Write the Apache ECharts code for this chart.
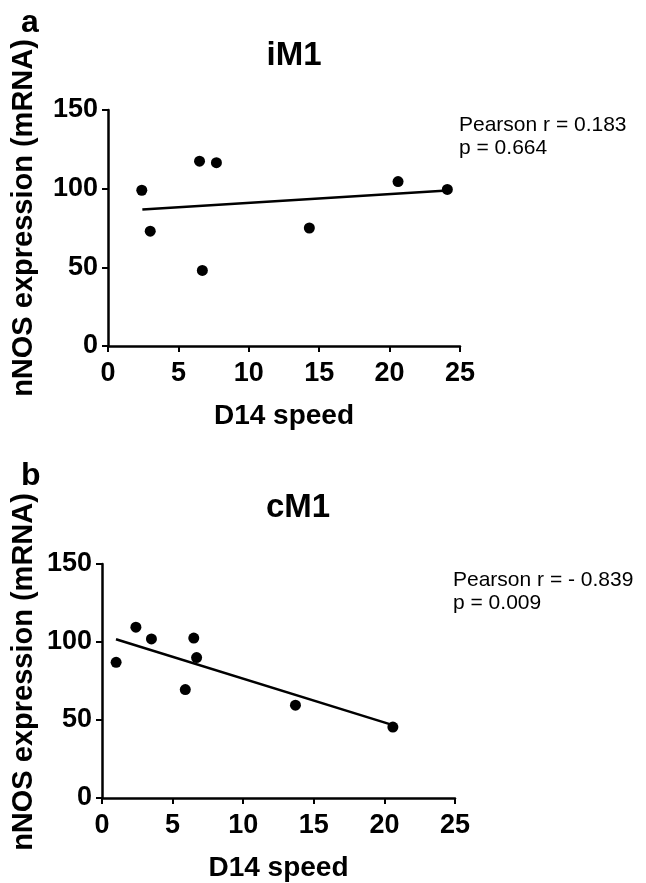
<!DOCTYPE html>
<html>
<head>
<meta charset="utf-8">
<title>nNOS expression vs D14 speed</title>
<script src="https://cdn.jsdelivr.net/npm/echarts@6/dist/echarts.min.js"></script>
<style>
  html, body { margin: 0; padding: 0; background: #fff; }
  #chart { width: 646px; height: 883px; }
</style>
</head>
<body>
<div id="chart"></div>
<script>
// 数据 a: iM1
const speedA = [2.4, 3.0, 6.5, 7.7, 6.7, 14.3, 20.6, 24.1];
const nnosA = [99, 73, 117.5, 116.5, 48, 75, 104.5, 99.5];
const fitA = [[2.44, 86.8], [24.1, 98.8]];
const statsA = ['Pearson r = 0.183', 'p = 0.664'];

// 数据 b: cM1
const speedB = [1.0, 2.4, 3.5, 6.5, 6.7, 5.9, 13.7, 20.6];
const nnosB = [87, 109.5, 102, 102.5, 90, 69.5, 59.5, 45.5];
const fitB = [[0.99, 101.8], [20.55, 46.9]];
const statsB = ['Pearson r = - 0.839', 'p = 0.009'];

const xTicks = { min: 0, max: 25, interval: 5 };
const yTicks = { min: 0, max: 150, interval: 50 };

const font = '"Liberation Sans", Arial, Helvetica, sans-serif';

function pairs(xs, ys) {
  return xs.map((x, i) => [x, ys[i]]);
}

// 坐标轴公共样式
function makeAxis(range, isX, gridIndex) {
  const axis = {
    type: 'value',
    gridIndex: gridIndex,
    min: range.min,
    max: range.max,
    interval: range.interval,
    splitLine: { show: false },
    axisLine: { show: true, onZero: false, lineStyle: { color: '#000', width: 2.5 } },
    axisTick: { show: true, inside: false, length: 6, lineStyle: { color: '#000', width: 2 } },
    axisLabel: {
      color: '#000', fontSize: 27, fontWeight: 'bold', fontFamily: font,
      margin: isX ? 14 : 10, showMinLabel: true, showMaxLabel: true
    }
  };
  if (isX) {
    axis.name = 'D14 speed';
    axis.nameLocation = 'middle';
    axis.nameGap = 56;
    axis.nameTextStyle = { color: '#000', fontSize: 28, fontWeight: 'bold', fontFamily: font };
  }
  return axis;
}

const chart = echarts.init(document.getElementById('chart'), null, { renderer: 'canvas' });

const titleStyle = { color: '#000', fontWeight: 'bold', fontFamily: font };
const statStyle = { fill: '#000', fontSize: 21, fontFamily: font, textAlign: 'left', textVerticalAlign: 'middle' };

const option = {
  backgroundColor: '#fff',
  animation: false,
  title: [
    { text: 'a', left: 16, top: 2, textStyle: Object.assign({ fontSize: 32 }, titleStyle) },
    { text: 'iM1', left: 289, top: 34, textAlign: 'center', textStyle: Object.assign({ fontSize: 33 }, titleStyle) },
    { text: 'b', left: 16, top: 455, textStyle: Object.assign({ fontSize: 32 }, titleStyle) },
    { text: 'cM1', left: 293, top: 486, textAlign: 'center', textStyle: Object.assign({ fontSize: 33 }, titleStyle) }
  ],
  grid: [
    { left: 108, right: 186, top: 110, height: 236 },
    { left: 102, right: 191, top: 564, height: 236 }
  ],
  xAxis: [makeAxis(xTicks, true, 0), makeAxis(xTicks, true, 1)],
  yAxis: [makeAxis(yTicks, false, 0), makeAxis(yTicks, false, 1)],
  graphic: [
    // y轴标题
    {
      type: 'text', x: 24, y: 218, rotation: Math.PI / 2,
      style: { text: 'nNOS expression (mRNA)', fill: '#000', fontSize: 29, fontWeight: 'bold', fontFamily: font, textAlign: 'center', textVerticalAlign: 'middle' }
    },
    {
      type: 'text', x: 24, y: 672, rotation: Math.PI / 2,
      style: { text: 'nNOS expression (mRNA)', fill: '#000', fontSize: 29, fontWeight: 'bold', fontFamily: font, textAlign: 'center', textVerticalAlign: 'middle' }
    },
    // 相关系数
    { type: 'text', x: 459, y: 125, style: Object.assign({ text: statsA[0] }, statStyle) },
    { type: 'text', x: 459, y: 148, style: Object.assign({ text: statsA[1] }, statStyle) },
    { type: 'text', x: 453, y: 580, style: Object.assign({ text: statsB[0] }, statStyle) },
    { type: 'text', x: 453, y: 603, style: Object.assign({ text: statsB[1] }, statStyle) }
  ],
  series: [
    {
      type: 'line', xAxisIndex: 0, yAxisIndex: 0, data: fitA,
      symbol: 'none', lineStyle: { color: '#000', width: 2.5 }, z: 2
    },
    {
      type: 'scatter', xAxisIndex: 0, yAxisIndex: 0, data: pairs(speedA, nnosA),
      symbolSize: 11, itemStyle: { color: '#000', opacity: 1 }, z: 3
    },
    {
      type: 'line', xAxisIndex: 1, yAxisIndex: 1, data: fitB,
      symbol: 'none', lineStyle: { color: '#000', width: 2.5 }, z: 2
    },
    {
      type: 'scatter', xAxisIndex: 1, yAxisIndex: 1, data: pairs(speedB, nnosB),
      symbolSize: 11, itemStyle: { color: '#000', opacity: 1 }, z: 3
    }
  ]
};

chart.setOption(option);
</script>
</body>
</html>
